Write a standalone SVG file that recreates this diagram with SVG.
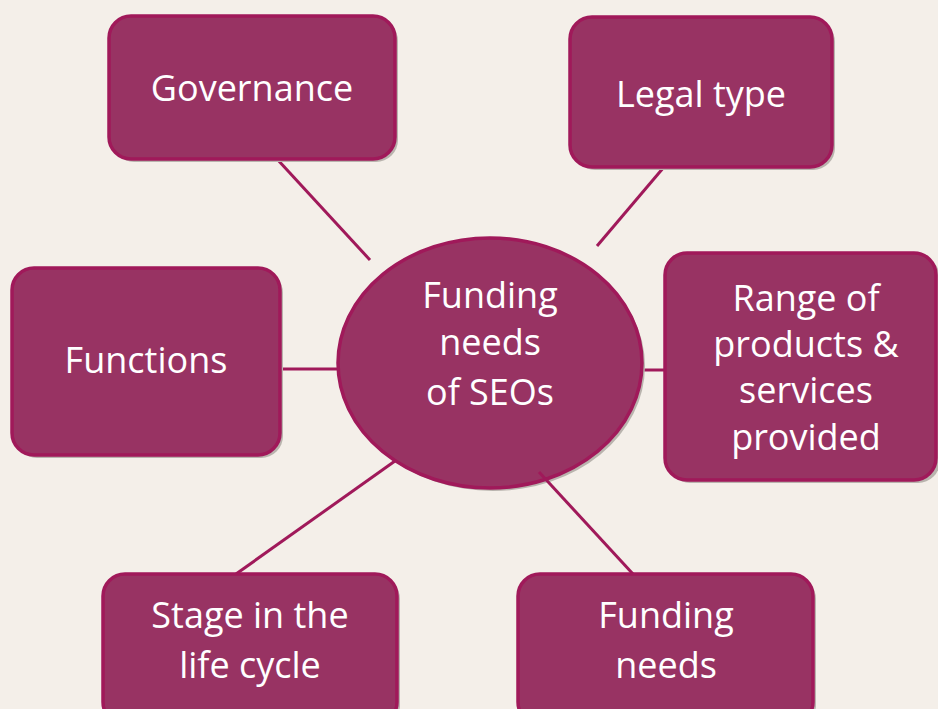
<svg xmlns="http://www.w3.org/2000/svg" width="938" height="709" viewBox="0 0 938 709">
<defs>
<style>
.box{fill:#983363;stroke:#A0195A;stroke-width:3.5}
.sh{fill:#b9b4ae}
.ln{stroke:#A0195A;stroke-width:3;fill:none}
.t{fill:#ffffff;font-family:"Open Sans","Noto Sans","DejaVu Sans",sans-serif;font-size:36px;text-anchor:middle}
</style>
</defs>
<rect width="938" height="709" fill="#F4EFE9"/>
<g id="connectors">
<line class="ln" x1="277" y1="159" x2="370" y2="260"/>
<line class="ln" x1="664" y1="167" x2="597" y2="246"/>
<line class="ln" x1="280" y1="369" x2="342" y2="369"/>
<line class="ln" x1="640" y1="370" x2="665" y2="370"/>
<line class="ln" x1="236" y1="574" x2="395" y2="461"/>
</g>
<g id="center">
<ellipse class="sh" cx="493" cy="366" rx="152" ry="125"/>
<ellipse class="box" cx="490" cy="363" rx="152" ry="125"/>
<text class="t" x="490" y="308">Funding</text>
<text class="t" x="490" y="355">needs</text>
<text class="t" x="490" y="405">of SEOs</text>
</g>
<g id="connector-funding">
<line class="ln" x1="539" y1="472" x2="633" y2="574"/>
</g>
<g id="governance">
<rect class="sh" x="112" y="19" width="286" height="143" rx="22"/>
<rect class="box" x="109" y="16" width="286" height="143" rx="22"/>
<text class="t" x="252" y="101">Governance</text>
</g>
<g id="legal-type">
<rect class="sh" x="573" y="20" width="262" height="150" rx="22"/>
<rect class="box" x="570" y="17" width="262" height="150" rx="22"/>
<text class="t" x="701" y="107">Legal type</text>
</g>
<g id="functions">
<rect class="sh" x="15" y="271" width="268" height="187" rx="22"/>
<rect class="box" x="12" y="268" width="268" height="187" rx="22"/>
<text class="t" x="146" y="373">Functions</text>
</g>
<g id="range">
<rect class="sh" x="668" y="256" width="272" height="227" rx="22"/>
<rect class="box" x="665" y="253" width="271" height="227" rx="22"/>
<text class="t" x="806" y="311">Range of</text>
<text class="t" x="806" y="357">products &amp;</text>
<text class="t" x="806" y="403">services</text>
<text class="t" x="806" y="450">provided</text>
</g>
<g id="stage">
<rect class="sh" x="106" y="577" width="294" height="150" rx="22"/>
<rect class="box" x="103" y="574" width="294" height="150" rx="22"/>
<text class="t" x="250" y="628">Stage in the</text>
<text class="t" x="250" y="678">life cycle</text>
</g>
<g id="funding-needs">
<rect class="sh" x="521" y="577" width="295" height="150" rx="22"/>
<rect class="box" x="518" y="574" width="295" height="150" rx="22"/>
<text class="t" x="666" y="628">Funding</text>
<text class="t" x="666" y="678">needs</text>
</g>
</svg>
